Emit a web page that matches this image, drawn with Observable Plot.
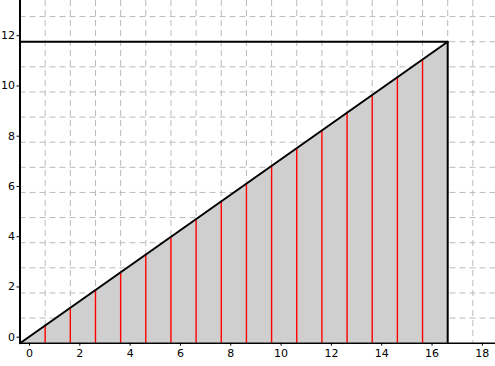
<!DOCTYPE html>
<html><head><meta charset="utf-8">
<script src="https://cdn.jsdelivr.net/npm/d3@7"></script>
<script src="https://cdn.jsdelivr.net/npm/@observablehq/plot@0.6"></script>
<style>body{margin:0;background:#fff;} svg{display:block;}</style>
</head><body><div id="chart"></div>
<script>
const xTicks = [0, 2, 4, 6, 8, 10, 12, 14, 16, 18];
const yTicks = [0, 2, 4, 6, 8, 10, 12];
const xGrid = [1,2,3,4,5,6,7,8,9,10,11,12,13,14,15,16,17,18];
const yGrid = [1,2,3,4,5,6,7,8,9,10,11,12,13];
const triX = [0, 17];
const triY = [0, 12];
const stickX = [1,2,3,4,5,6,7,8,9,10,11,12,13,14,15,16];
const stickY = [0.71,1.41,2.12,2.82,3.53,4.24,4.94,5.65,6.35,7.06,7.76,8.47,9.18,9.88,10.59,11.29];

const tri = triX.map((x, i) => ({x, y: triY[i]}));
const sticks = stickX.map((x, i) => ({x, y: stickY[i]}));

const chart = Plot.plot({
  width: 495, height: 366,
  marginLeft: 19.5, marginRight: 0, marginTop: 0, marginBottom: 23.3,
  style: {fontFamily: "DejaVu Sans", fontSize: "11px", background: "#fff"},
  x: {domain: [0, 18.9]},
  y: {domain: [0, 13.64]},
  marks: [
    Plot.ruleX(xGrid, {stroke: "#bbb", strokeDasharray: "6,4", strokeWidth: 1}),
    Plot.ruleY(yGrid, {stroke: "#bbb", strokeDasharray: "6,4", strokeWidth: 1}),
    Plot.areaY(tri, {x: "x", y: "y", fill: "#cfcfcf"}),
    Plot.ruleX(sticks, {x: "x", y1: 0, y2: "y", stroke: "#ff0000", strokeWidth: 1.4}),
    Plot.line(tri, {x: "x", y: "y", stroke: "black", strokeWidth: 2}),
    Plot.ruleY([triY[1]], {x1: triX[0], x2: triX[1], stroke: "black", strokeWidth: 2}),
    Plot.ruleX([triX[1]], {y1: triY[0], y2: triY[1], stroke: "black", strokeWidth: 2}),
    Plot.ruleY([0], {stroke: "black", strokeWidth: 1.5}),
    Plot.ruleX([0], {stroke: "black", strokeWidth: 2}),
    Plot.axisX({ticks: xTicks, tickSize: 3, tickPadding: 3, dx: 9.5, label: null, fill: "black", fontSize: 11}),
    Plot.axisY({ticks: yTicks, tickSize: 3, tickPadding: 2, dy: -6, label: null, fill: "black", fontSize: 11})
  ]
});
document.getElementById("chart").appendChild(chart);
</script></body></html>
